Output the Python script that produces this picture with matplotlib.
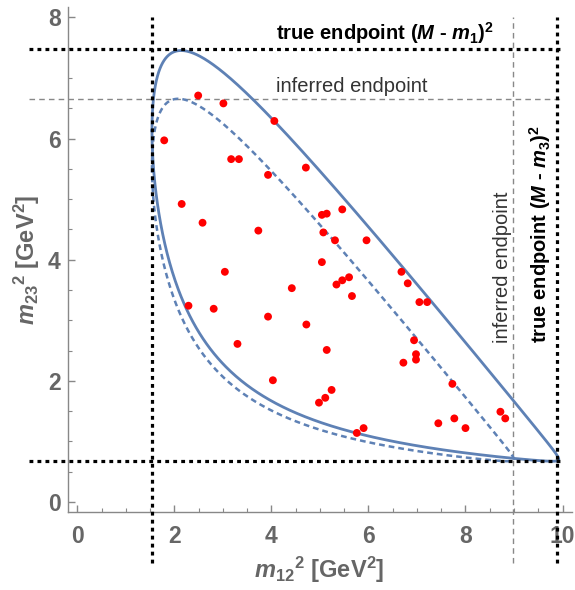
import numpy as np
import matplotlib
matplotlib.use('Agg')
import matplotlib.pyplot as plt

plt.rcParams['font.family'] = ['Liberation Sans', 'DejaVu Sans']
plt.rcParams['mathtext.fontset'] = 'custom'
plt.rcParams['mathtext.rm'] = 'Liberation Sans:bold'
plt.rcParams['mathtext.bf'] = 'Liberation Sans:bold'
plt.rcParams['mathtext.it'] = 'Liberation Sans:italic:bold'

# masses (GeV) for the true and the inferred boundary
M_true = 3.17
M_inf = 3.02
m1 = 0.44
m2 = 0.80
m3 = 0.02

# endpoint lines
true_m12_min = 1.53
true_m12_max = 9.88
true_m23_min = 0.67
true_m23_max = 7.47
inf_m12_max = 8.97
inf_m23_max = 6.66

# simulated events (m12^2, m23^2)
ev_m12 = [2.49, 3.01, 4.06, 1.79, 3.17, 3.33, 4.71, 3.93, 2.15, 5.04,
          5.14, 5.46, 5.07, 2.58, 3.73, 5.31, 5.96, 5.04, 3.04, 6.68,
          4.42, 5.34, 5.46, 5.60, 6.81, 7.05, 7.21, 2.29, 2.81, 5.66,
          3.93, 4.72, 6.94, 3.30, 6.98, 6.98, 6.72, 5.14, 4.03, 7.73,
          5.24, 5.11, 4.98, 8.72, 8.82, 7.77, 7.44, 8.00, 5.90, 5.76]
ev_m23 = [6.71, 6.58, 6.29, 5.97, 5.66, 5.66, 5.52, 5.40, 4.92, 4.74,
          4.76, 4.83, 4.45, 4.61, 4.48, 4.32, 4.32, 3.96, 3.80, 3.80,
          3.53, 3.59, 3.66, 3.71, 3.61, 3.30, 3.30, 3.24, 3.19, 3.40,
          3.06, 2.93, 2.67, 2.61, 2.44, 2.35, 2.30, 2.51, 2.01, 1.95,
          1.85, 1.72, 1.64, 1.49, 1.38, 1.38, 1.30, 1.22, 1.22, 1.14]


def dalitz_boundary(M, m1, m2, m3, n=600):
    smin = (m1 + m2)**2
    smax = (M - m3)**2
    t = np.linspace(0, np.pi, n)
    s = smin + (smax - smin)*(1 - np.cos(t))/2
    rs = np.sqrt(s)
    E2 = (s - m1**2 + m2**2)/(2*rs)
    E3 = (M**2 - s - m3**2)/(2*rs)
    p2 = np.sqrt(np.clip(E2**2 - m2**2, 0, None))
    p3 = np.sqrt(np.clip(E3**2 - m3**2, 0, None))
    hi = (E2 + E3)**2 - (p2 - p3)**2
    lo = (E2 + E3)**2 - (p2 + p3)**2
    x = np.concatenate([s, s[::-1]])
    y = np.concatenate([lo, hi[::-1]])
    return x, y


blue = '#5E81B5'
grey = '#666666'

fig = plt.figure(figsize=(5.75, 5.90), dpi=100)
ax = fig.add_axes([0.1177, 0.1322, 0.8766, 0.8558])

xt, yt = dalitz_boundary(M_true, m1, m2, m3)
xi, yi = dalitz_boundary(M_inf, m1, m2, m3)
ax.plot(xt, yt, color=blue, lw=2.0, zorder=3)
ax.plot(xi, yi, color=blue, lw=1.8, ls=(0, (2.3, 1.6)), zorder=3)

# inferred endpoints
gl = dict(color='#888888', lw=1.0, ls=(0, (4, 3)), clip_on=False, zorder=2)
ax.plot([-1, 10], [inf_m23_max, inf_m23_max], **gl)
ax.plot([inf_m12_max, inf_m12_max], [-1, 8], **gl)

# true endpoints
bl = dict(color='black', lw=2.3, ls=(0, (1.2, 1.3)), clip_on=False, zorder=4)
ax.plot([-1, 10], [true_m23_max, true_m23_max], **bl)
ax.plot([-1, 10], [true_m23_min, true_m23_min], **bl)
ax.plot([true_m12_min, true_m12_min], [-1, 8], **bl)
ax.plot([true_m12_max, true_m12_max], [-1, 8], **bl)

ax.scatter(ev_m12, ev_m23, s=32, color='#FF0000', edgecolors='none', zorder=5)

ax.text(4.1, 7.52, r'true endpoint $\mathit{(M}$ - $\mathit{m_1)^2}$',
        fontsize=14.5, fontweight='bold', color='black', va='bottom', ha='left')
ax.text(4.1, 6.70, 'inferred endpoint', fontsize=14.5, color='#333333',
        va='bottom', ha='left')
ax.text(8.76, 2.62, 'inferred endpoint', fontsize=14.5, color='#333333',
        rotation=90, va='bottom', ha='center')
ax.text(9.53, 2.62, r'true endpoint $\mathit{(M}$ - $\mathit{m_3)^2}$',
        fontsize=14.5, fontweight='bold', color='black', rotation=90,
        va='bottom', ha='center')

ax.set_xlim(-0.2, 10.19)
ax.set_ylim(-0.165, 8.17)
ax.set_xticks([0, 2, 4, 6, 8, 10])
ax.set_yticks([0, 2, 4, 6, 8])
ax.set_xticks(np.arange(0, 10.01, 0.5), minor=True)
ax.set_yticks(np.arange(0, 8.01, 0.5), minor=True)

for side in ['top', 'right']:
    ax.spines[side].set_visible(False)
for side in ['left', 'bottom']:
    ax.spines[side].set_color('#888888')
    ax.spines[side].set_linewidth(1.0)
ax.tick_params(which='both', direction='in', color='#888888', labelcolor=grey)
ax.tick_params(which='major', length=5, width=1.0, labelsize=16.5)
ax.tick_params(axis='x', which='major', pad=9)
ax.tick_params(axis='y', which='major', pad=5)
ax.tick_params(which='minor', length=3, width=0.8)
for lab in ax.get_xticklabels() + ax.get_yticklabels():
    lab.set_fontweight('bold')

ax.set_xlabel(r'$m_{12}{}^2$ [GeV$^2$]', fontsize=17, fontweight='bold',
              color=grey, labelpad=5)
ax.set_ylabel(r'$m_{23}{}^2$ [GeV$^2$]', fontsize=17, fontweight='bold',
              color=grey, labelpad=4)

fig.savefig('out.png', dpi=100)
